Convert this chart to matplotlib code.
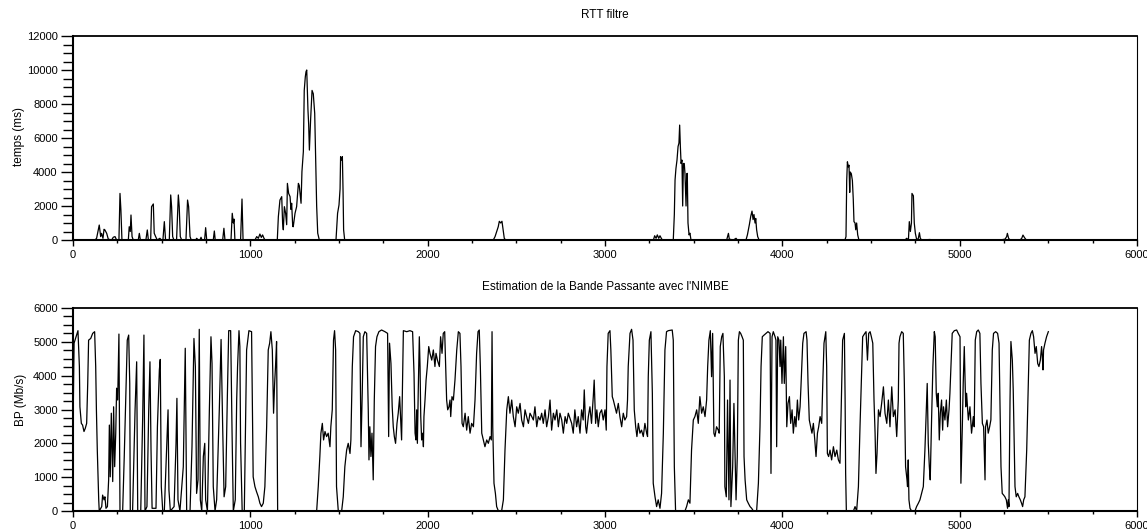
import matplotlib
matplotlib.use("Agg")
import matplotlib.pyplot as plt
from matplotlib.ticker import MultipleLocator

plt.rcParams['font.family'] = ['Liberation Sans', 'DejaVu Sans']

# RTT filtre (ms)
rtt_x = [0, 124, 133, 148, 156, 161, 169, 175, 180, 190,
         199, 218, 227, 237, 246, 259, 265, 270, 276, 312,
         317, 323, 327, 333, 340, 368, 374, 380, 411, 419,
         425, 438, 443, 453, 458, 466, 475, 490, 498, 507,
         515, 522, 543, 551, 556, 562, 569, 584, 594, 599,
         605, 613, 637, 646, 652, 660, 667, 693, 697, 707,
         716, 722, 727, 742, 748, 754, 791, 797, 802, 844,
         851, 857, 891, 898, 904, 908, 913, 945, 953, 959,
         1026, 1036, 1045, 1054, 1062, 1069, 1077, 1083, 1152, 1158,
         1167, 1177, 1182, 1186, 1192, 1199, 1205, 1209, 1216, 1224,
         1229, 1233, 1239, 1242, 1252, 1261, 1271, 1276, 1286, 1291,
         1299, 1304, 1310, 1314, 1318, 1321, 1325, 1329, 1333, 1340,
         1348, 1355, 1363, 1368, 1374, 1380, 1389, 1483, 1492, 1500,
         1506, 1509, 1515, 1519, 1523, 1526, 1532,
         2370, 2380, 2389, 2398, 2404, 2412, 2419, 2427, 2432, 2440,
         3273, 3280, 3288, 3295, 3303, 3310, 3320, 3329, 3385, 3391,
         3395, 3400, 3406, 3412, 3417, 3421, 3425, 3429, 3434, 3438,
         3442, 3447, 3451, 3457, 3461, 3464, 3468, 3474, 3479, 3485,
         3686, 3696, 3701, 3724, 3739, 3746, 3795, 3803, 3814, 3822,
         3829, 3835, 3840, 3846, 3850, 3855, 3861, 3869, 4353, 4359,
         4363, 4367, 4372, 4376, 4380, 4383, 4389, 4395, 4400, 4404,
         4410, 4414, 4419, 4425, 4432, 4692, 4701, 4711, 4716, 4722,
         4728, 4731, 4739, 4744, 4750, 4758, 4767, 4773, 4778, 4786,
         4833, 4842, 5228, 5256, 5265, 5269, 5276, 5284, 5340, 5350,
         5357, 5365, 5372, 5378, 5500]
rtt_y = [0, 0, 100, 880, 200, 390, 100, 630, 590, 390,
         50, 0, 160, 200, 0, 0, 2740, 1800, 0, 0,
         780, 500, 1470, 200, 0, 0, 390, 0, 0, 590,
         0, 0, 1960, 2120, 400, 200, 0, 100, 0, 0,
         1080, 0, 0, 2650, 1950, 200, 0, 0, 2650, 1960,
         200, 0, 0, 2350, 1960, 200, 0, 0, 100, 0,
         0, 160, 0, 0, 725, 0, 0, 530, 0, 0,
         690, 0, 0, 1570, 1000, 1230, 0, 0, 2410, 0,
         0, 200, 100, 350, 150, 300, 100, 0, 0, 1370,
         2350, 2550, 1000, 600, 1960, 1570, 900, 3330, 2740, 2550,
         1800, 2160, 800, 780, 1570, 1960, 3330, 3200, 2160, 4020,
         5200, 8800, 9600, 9900, 10000, 9000, 7640, 6800, 5290, 7100,
         8800, 8600, 7450, 4900, 2000, 400, 0, 0, 1570, 2060,
         3000, 4900, 4700, 4900, 2800, 600, 0,
         0, 200, 500, 780, 1100, 1000, 1100, 500, 100, 0,
         0, 250, 100, 300, 100, 250, 50, 0, 0, 1500,
         3530, 4200, 4700, 5500, 5700, 6760, 5500, 4500, 4700, 2000,
         4500, 4500, 3900, 2000, 3900, 3920, 1000, 300, 400, 0,
         0, 390, 50, 0, 100, 0, 0, 300, 900, 1400,
         1700, 1200, 1500, 1000, 1270, 600, 200, 0, 0, 200,
         3500, 4600, 4300, 4400, 2800, 4000, 3900, 3500, 2400, 1080,
         1000, 600, 1000, 300, 0, 0, 100, 0, 1080, 500,
         1000, 2740, 2600, 1000, 400, 0, 100, 430, 100, 0,
         30, 0, 0, 50, 200, 390, 100, 0, 0, 100,
         290, 150, 50, 0, 0]

# Bande passante (Mb/s)
bp_x = [0, 6, 17, 28, 36, 39, 47, 54, 62, 69,
        77, 83, 88, 100, 111, 122, 128, 132, 137, 145,
        148, 162, 167, 175, 180, 186, 194, 201, 205, 210,
        216, 224, 229, 235, 241, 246, 252, 259, 265, 280,
        289, 299, 306, 314, 320, 323, 336, 350, 359, 365,
        382, 393, 400, 406, 417, 427, 434, 440, 446, 468,
        476, 487, 492, 498, 506, 515, 528, 536, 541, 549,
        570, 581, 586, 592, 603, 622, 633, 641, 660, 671,
        682, 690, 697, 705, 712, 718, 726, 735, 743, 748,
        758, 769, 778, 784, 791, 801, 810, 825, 835, 844,
        852, 861, 870, 878, 889, 897, 904, 915, 923,
        928, 936, 941, 945, 954, 966, 979, 992, 1007, 1016,
        1026, 1035, 1045, 1054, 1063, 1073, 1082, 1092, 1101, 1109,
        1116, 1124, 1131, 1137, 1142, 1148, 1154, 1374, 1383, 1392,
        1398, 1406, 1413, 1421, 1430, 1439, 1449, 1454, 1462, 1469,
        1475, 1481, 1486, 1496, 1515, 1524, 1533, 1543, 1552, 1562,
        1567, 1575, 1582, 1594, 1609, 1618, 1624, 1631, 1637, 1646,
        1656, 1665, 1669, 1674, 1680, 1686, 1693, 1699, 1706, 1714,
        1725, 1740, 1759, 1774, 1780, 1785, 1793, 1800, 1806, 1812,
        1819, 1827, 1834, 1842,
        1853, 1863, 1882, 1900, 1915, 1923, 1929, 1934, 1938, 1942,
        1947, 1953, 1957, 1961, 1966, 1972, 1976, 1979, 1985, 1991,
        1998, 2006, 2013, 2023, 2032, 2041, 2047, 2055, 2066, 2073,
        2081, 2088, 2096, 2102, 2107, 2113, 2120, 2126, 2130, 2137,
        2145, 2154, 2164, 2173, 2182, 2188, 2194, 2201, 2211, 2220,
        2229, 2239, 2248, 2258, 2267, 2276, 2284, 2291, 2297, 2305,
        2314, 2323, 2333, 2342, 2352, 2359, 2363, 2367, 2374, 2382,
        2389, 2399, 2417, 2427, 2436, 2446, 2455, 2464, 2474, 2483,
        2493, 2502, 2511, 2521, 2530, 2540, 2549, 2558, 2568, 2577,
        2587, 2596, 2605, 2615, 2624, 2634, 2643, 2652, 2662, 2671,
        2681, 2690, 2699, 2709, 2718, 2728, 2737, 2746, 2756, 2765,
        2775, 2784, 2793,
        2812, 2821, 2830, 2840, 2849, 2859, 2868, 2877, 2883, 2891,
        2896, 2906, 2915, 2924, 2934, 2939, 2947, 2954, 2962, 2971,
        2981, 2990, 3000, 3007, 3011, 3018, 3028, 3033, 3041, 3047,
        3056, 3065, 3075, 3084, 3094, 3103, 3112, 3122, 3127, 3131,
        3141, 3150, 3158, 3165, 3173, 3180, 3188, 3197, 3206, 3216,
        3225, 3235, 3240, 3244, 3250, 3259, 3267, 3272, 3282, 3291,
        3300, 3310, 3319, 3329, 3338, 3347, 3357, 3379, 3385, 3391,
        3398, 3451, 3460, 3470, 3479, 3488, 3498, 3507, 3517, 3526,
        3535, 3545, 3554, 3564, 3573, 3579, 3586, 3594, 3601, 3607,
        3614, 3620, 3629, 3639, 3644, 3650, 3658, 3665, 3673, 3676,
        3684, 3691, 3699, 3705, 3710, 3720, 3727,
        3739, 3746, 3752, 3758, 3765, 3773, 3780, 3784, 3790, 3799,
        3808, 3818, 3827, 3837, 3855, 3865, 3874, 3880, 3887, 3897,
        3908, 3919, 3931, 3936, 3942, 3949, 3959, 3964, 3968, 3974,
        3981, 3987, 3991, 3998, 4006, 4011, 4019, 4025, 4032, 4040,
        4047, 4055, 4062, 4070, 4077, 4085, 4092, 4100, 4105, 4115,
        4122, 4134, 4139, 4145, 4152, 4160, 4167, 4175, 4183, 4190,
        4198, 4205, 4213, 4222, 4228, 4235, 4245, 4250, 4254, 4261,
        4269, 4278, 4288, 4297, 4307, 4316, 4325, 4331, 4340, 4350,
        4354, 4357, 4361, 4401, 4410, 4419, 4429, 4438, 4448, 4453,
        4465, 4472, 4480, 4487, 4495, 4502, 4510, 4517, 4523, 4528,
        4534, 4542, 4551, 4560, 4570, 4579, 4589, 4598, 4607, 4617,
        4626, 4636, 4645, 4654,
        4658, 4663, 4673, 4682, 4688, 4695, 4703, 4706, 4710, 4714,
        4720, 4729, 4748, 4757, 4767, 4776, 4785, 4795, 4804, 4814,
        4817, 4823, 4829, 4834, 4842, 4849, 4857, 4862, 4868, 4874,
        4879, 4885, 4891, 4898, 4904, 4909, 4917, 4925, 4932, 4940,
        4945, 4951, 4958, 4970, 4983, 4992, 5002, 5007, 5015, 5020,
        5026, 5034, 5039, 5049, 5058, 5067, 5077, 5082, 5088, 5096,
        5105, 5114, 5120, 5128, 5135, 5143, 5146, 5154, 5161, 5169,
        5176, 5184, 5191, 5203, 5214, 5222, 5227, 5233, 5240, 5248,
        5255, 5263, 5270, 5274, 5278, 5284, 5289, 5297, 5302, 5312,
        5319, 5327, 5334, 5342, 5349, 5355, 5361, 5368, 5378, 5387,
        5393, 5402, 5410, 5417, 5425, 5432, 5440, 5447, 5455, 5462,
        5466, 5470, 5473, 5481, 5490, 5500]
bp_y = [2390, 4960, 5150, 5330, 4270, 3080, 2590, 2540, 2350, 2440,
        2590, 3770, 5050, 5100, 5250, 5300, 4270, 2990, 1800, 330,
        0, 130, 470, 330, 420, 80, 130, 920, 2540, 1010,
        2890, 870, 3080, 1310, 2300, 3630, 3280, 5230, 0, 0,
        1610, 3580, 5050, 5200, 3770, 0, 0, 2990, 4410, 0,
        0, 2790, 5200, 0, 130, 2990, 4410, 1800, 80, 80,
        2490, 4170, 4480, 720, 0, 0, 1900, 2990, 620, 0,
        130, 2000, 3330, 330, 0, 1310, 4810, 0, 0, 1900,
        5100, 4270, 520, 920, 5370, 330, 0, 1610, 2000, 330,
        0, 2990, 5150, 4360, 720, 0, 330, 2990, 5070, 2490,
        420, 720, 3280, 5330, 5330, 2300, 0, 330, 3280,
        4270, 5330, 4860, 2000, 0, 0, 4760, 5330, 5300, 1010,
        720, 570, 420, 230, 130, 230, 720, 2490, 4760, 4960,
        5300, 4760, 2890, 3770, 4270, 5010, 0, 0, 720, 1610,
        2300, 2590, 2100, 2350, 2200, 2300, 1900, 2490, 2990, 5050,
        5330, 4760, 720, 0, 0, 420, 1310, 1800, 2000, 1700,
        2100, 4270, 5150, 5330, 5300, 5250, 1900, 3480, 5150, 5300,
        5250, 2990, 1510, 2490, 1610, 2300, 920, 3280, 4860, 5150,
        5300, 5350, 5300, 5250, 2200, 4960, 4360, 3080, 2490, 2200,
        2000, 2590, 2890, 3380,
        2100, 5330, 5300, 5330, 5300, 4070, 2300, 2100, 2990, 2000,
        3580, 5150, 4270, 2790, 2100, 2300, 1900, 2790, 3280, 3870,
        4270, 4860, 4660, 4460, 4760, 4270, 4660, 4460, 4270, 5150,
        4660, 5250, 5300, 4170, 3280, 2990, 3080, 3280, 2790, 3380,
        3280, 3870, 4760, 5300, 5250, 4270, 2590, 2490, 2890, 2390,
        2790, 2300, 2590, 2490, 3280, 4660, 5300, 5350, 4270, 2300,
        2100, 1900, 2100, 2000, 2200, 2100, 5300, 2490, 820, 520,
        130, 0, 0, 330, 1800, 2990, 3380, 2890, 3280, 2790,
        2490, 3080, 2890, 3180, 2690, 2490, 2990, 2790, 2590, 2890,
        2790, 2690, 3080, 2490, 2790, 2690, 2890, 2590, 2990, 2490,
        2790, 3280, 2390, 2890, 2690, 2990, 2490, 2890, 2690, 2300,
        2790, 2590, 2890,
        2590, 2300, 2990, 2490, 2790, 2300, 2990, 2690, 3580, 2490,
        2300, 2790, 3080, 2590, 3380, 3870, 2590, 2990, 2490, 2890,
        2990, 2690, 2990, 2390, 4270, 5250, 5330, 4760, 3380, 3280,
        3080, 2890, 3180, 2790, 2490, 2890, 2690, 2790, 3280, 4270,
        5250, 5370, 5050, 2990, 2490, 2200, 2590, 2300, 2390, 2200,
        2590, 2300, 2200, 3970, 5050, 5300, 3480, 820, 420, 130,
        330, 80, 520, 2300, 4760, 5300, 5330, 5350, 5050, 1310,
        0, 0, 130, 330, 230, 1800, 2690, 2790, 2990, 2590,
        3380, 2890, 3080, 2790, 3280, 4270, 5050, 5330, 3970, 5250,
        2300, 2200, 2490, 2390, 2300, 4860, 5150, 5250, 3970, 720,
        420, 3280, 330, 3870, 130, 1310, 3180,
        330, 1610, 5050, 5300, 5250, 5150, 5050, 1610, 920, 330,
        230, 130, 80, 0, 0, 820, 2490, 4270, 5150, 5200,
        5250, 5300, 5250, 1110, 5150, 5300, 5150, 5050, 1900, 5150,
        5050, 4270, 5050, 3770, 5150, 3770, 4860, 2490, 3180, 3380,
        2590, 2990, 2300, 2790, 2490, 3280, 2690, 3080, 3670, 4960,
        5250, 5300, 5050, 3770, 2690, 2490, 2300, 2590, 2100, 1610,
        2300, 2490, 2790, 2590, 3770, 4960, 5300, 4270, 1700, 1610,
        1800, 1510, 1900, 1610, 1800, 1510, 1410, 2790, 5050, 5250,
        3280, 1110, 0, 0, 130, 0, 720, 2490, 4270, 5150,
        5250, 5300, 4460, 5250, 5300, 5150, 4960, 3280, 2300, 1110,
        1700, 2990, 2790, 3180, 3670, 2890, 2590, 3280, 2490, 3670,
        2790, 2990, 2200, 3280,
        4960, 5150, 5300, 5250, 3770, 1310, 920, 720, 1510, 330,
        80, 0, 0, 130, 230, 330, 520, 720, 1800, 3280,
        3770, 2000, 1310, 920, 2790, 4270, 5300, 5150, 3480, 3080,
        3480, 2100, 2890, 3280, 2390, 3080, 2690, 3280, 2490, 2990,
        3480, 4270, 5250, 5330, 5350, 5250, 5150, 820, 2490, 3770,
        4860, 3080, 3480, 2690, 3080, 2300, 2790, 2490, 5050, 5300,
        5350, 5250, 3770, 2590, 2490, 920, 2490, 2690, 2300, 2490,
        2690, 4760, 5250, 5300, 5250, 4960, 3280, 1310, 520, 470,
        420, 330, 80, 330, 130, 3280, 5010, 4460, 3580, 720,
        420, 520, 420, 330, 230, 130, 330, 420, 1800, 3770,
        5050, 5250, 5330, 5150, 4660, 4860, 4360, 4270, 4460, 4860,
        4560, 4170, 4760, 4960, 5150, 5300]

W, H = 1147, 531
fig = plt.figure(figsize=(W / 100, H / 100), dpi=100)
ax1 = fig.add_axes([73 / W, 1 - 240 / H, 1064 / W, 204 / H])
ax2 = fig.add_axes([73 / W, 1 - 511 / H, 1064 / W, 203 / H])

ax1.plot(rtt_x, rtt_y, color='black', lw=0.9)
ax2.plot(bp_x, bp_y, color='black', lw=0.9)

ax1.set_ylim(0, 12000)
ax1.yaxis.set_major_locator(MultipleLocator(2000))
ax1.yaxis.set_minor_locator(MultipleLocator(500))
ax2.set_ylim(0, 6000)
ax2.yaxis.set_major_locator(MultipleLocator(1000))
ax2.yaxis.set_minor_locator(MultipleLocator(250))

for ax in (ax1, ax2):
    ax.set_xlim(0, 6000)
    ax.xaxis.set_major_locator(MultipleLocator(1000))
    ax.xaxis.set_minor_locator(MultipleLocator(250))
    ax.tick_params(axis='y', which='major', length=9, width=1, labelsize=8, pad=2)
    ax.tick_params(axis='y', which='minor', length=7, width=1)
    ax.tick_params(axis='x', which='major', length=4, width=1, labelsize=8, pad=3)
    ax.tick_params(axis='x', which='minor', length=2.5, width=1)
    ax.spines['left'].set_linewidth(1.5)
    ax.spines['bottom'].set_linewidth(1.5)
    ax.spines['top'].set_linewidth(1.3)
    ax.spines['right'].set_linewidth(0.8)

ax1.text(0.5, 1 + 21 / 204, 'RTT filtre', transform=ax1.transAxes,
         ha='center', va='center', fontsize=8.5)
ax2.text(0.5, 1 + 21 / 203, "Estimation de la Bande Passante avec l'NIMBE",
         transform=ax2.transAxes, ha='center', va='center', fontsize=8.5)

fig.text(19 / W, 1 - 137 / H, 'temps (ms)', rotation=90, ha='center', va='center', fontsize=8.5)
fig.text(21 / W, 1 - 400 / H, 'BP (Mb/s)', rotation=90, ha='center', va='center', fontsize=8.5)

fig.savefig('out.png', dpi=100)
